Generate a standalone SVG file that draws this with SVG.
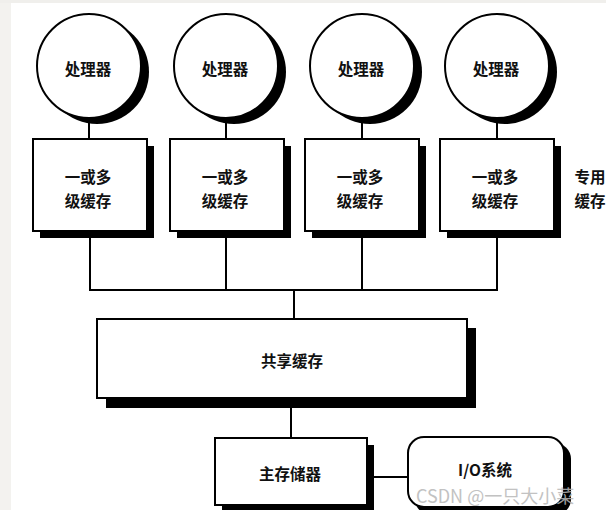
<svg xmlns="http://www.w3.org/2000/svg" width="606" height="510" viewBox="0 0 606 510">
<style>
.shadow{fill:#000}
.node{fill:#fff;stroke:#000;stroke-width:2}
.wire{fill:none;stroke:#000;stroke-width:2}
.t{font-family:"Noto Sans CJK SC","Noto Sans",sans-serif;font-weight:bold;font-size:15.5px;fill:#111;text-anchor:middle;dominant-baseline:central}
.wm{font-family:"Noto Sans CJK SC","Noto Sans",sans-serif;font-size:18px;fill:#b8b8b8;opacity:0.85}
</style>
<rect x="0" y="0" width="606" height="510" fill="#fff"/>
<rect x="0" y="0" width="11" height="510" fill="#f3f2ef"/>
<rect x="0" y="0" width="606" height="3" fill="#f0efec"/>
<g id="connectors">
<path class="wire" d="M89 118V139M226 118V139M362 118V139M497 118V139"/>
<path class="wire" d="M90 231V290H497V231M226 231V290M362 231V290"/>
<path class="wire" d="M294 290V319"/>
<path class="wire" d="M291 398V438"/>
<path class="wire" d="M374 477H408"/>
</g>
<g id="cpu1"><circle class="shadow" cx="97" cy="72" r="52"/><circle class="node" cx="89" cy="66" r="52"/><text class="t" x="88" y="68">处理器</text></g>
<g id="cpu2"><circle class="shadow" cx="234" cy="72" r="52"/><circle class="node" cx="226" cy="66" r="52"/><text class="t" x="225" y="68">处理器</text></g>
<g id="cpu3"><circle class="shadow" cx="370" cy="72" r="52"/><circle class="node" cx="362" cy="66" r="52"/><text class="t" x="361" y="68">处理器</text></g>
<g id="cpu4"><circle class="shadow" cx="505" cy="72" r="52"/><circle class="node" cx="497" cy="66" r="52"/><text class="t" x="496" y="68">处理器</text></g>
<g id="cache1"><rect class="shadow" x="40" y="146" width="114" height="92"/><rect class="node" x="33" y="139" width="114" height="92"/><text class="t" x="88" y="176">一或多</text><text class="t" x="88" y="200">级缓存</text></g>
<g id="cache2"><rect class="shadow" x="177" y="146" width="114" height="92"/><rect class="node" x="170" y="139" width="114" height="92"/><text class="t" x="225" y="176">一或多</text><text class="t" x="225" y="200">级缓存</text></g>
<g id="cache3"><rect class="shadow" x="312" y="146" width="114" height="92"/><rect class="node" x="305" y="139" width="114" height="92"/><text class="t" x="360" y="176">一或多</text><text class="t" x="360" y="200">级缓存</text></g>
<g id="cache4"><rect class="shadow" x="447" y="146" width="114" height="92"/><rect class="node" x="440" y="139" width="114" height="92"/><text class="t" x="495" y="176">一或多</text><text class="t" x="495" y="200">级缓存</text></g>
<g id="label-private"><text class="t" x="590" y="176">专用</text><text class="t" x="590" y="200">缓存</text></g>
<g id="shared"><rect class="shadow" x="106" y="328" width="370" height="80"/><rect class="node" x="97" y="319" width="370" height="79"/><text class="t" x="292" y="360">共享缓存</text></g>
<g id="memory"><rect class="shadow" x="222" y="445" width="152" height="70"/><rect class="node" x="215" y="438" width="152" height="67"/><text class="t" x="290" y="473">主存储器</text></g>
<g id="io"><rect class="shadow" x="415" y="443" width="156" height="72" rx="16"/><rect class="node" x="408" y="437" width="156" height="70" rx="16"/><text class="t" x="485" y="469">I/O系统</text></g>
<text class="wm" x="416" y="503">CSDN @一只大小菜</text>
</svg>
